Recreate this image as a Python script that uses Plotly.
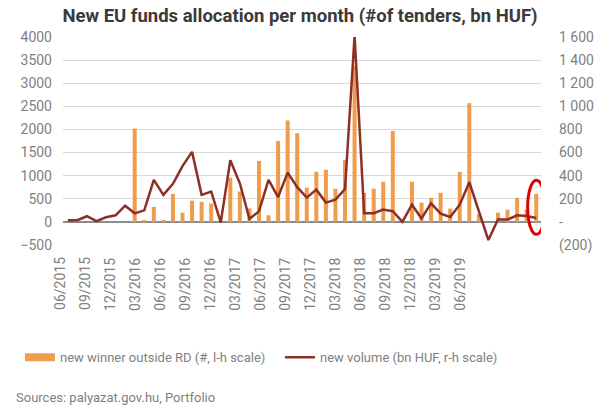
import plotly.graph_objects as go

# Monthly categories 06/2015 .. 07/2019 (50 months)
months = ["06/2015","07/2015","08/2015","09/2015","10/2015","11/2015","12/2015",
          "01/2016","02/2016","03/2016","04/2016","05/2016","06/2016","07/2016","08/2016","09/2016","10/2016","11/2016","12/2016",
          "01/2017","02/2017","03/2017","04/2017","05/2017","06/2017","07/2017","08/2017","09/2017","10/2017","11/2017","12/2017",
          "01/2018","02/2018","03/2018","04/2018","05/2018","06/2018","07/2018","08/2018","09/2018","10/2018","11/2018","12/2018",
          "01/2019","02/2019","03/2019","04/2019","05/2019","06/2019","07/2019"]

# new winner outside RD (#, left scale)
winners = [0, 0, 0, 0, 0, 0, 0, 2020, 25, 325,
           25, 605, 200, 460, 435, 395, 0, 957, 657, 293,
           1320, 143, 1750, 2195, 1920, 740, 1085, 1128, 718, 1343,
           3370, 630, 718, 869, 1968, 0, 869, 415, 522, 630,
           287, 1082, 2568, 165, 0, 200, 264, 521, 264, 607]

# new volume (bn HUF, right scale)
volume = [14, 14, 49, 6, 40, 57, 140, 74, 100, 363,
          234, 329, 483, 606, 234, 263, -5, 534, 334, 26,
          91, 363, 214, 426, 300, 210, 279, 167, 193, 284,
          1610, 75, 75, 106, 92, 0, 149, 30, 160, 71,
          43, 149, 343, 90, -157, 20, 20, 57, 51, 34]

# tick labels shown under the axis (as in the reference)
xtick_labels = ["06/2015","09/2015","12/2015","03/2016","06/2016","09/2016","12/2016",
                "03/2017","06/2017","09/2017","12/2017","03/2018","06/2018","09/2018",
                "12/2018","03/2019","06/2019"]
left_ticks = [-500, 0, 500, 1000, 1500, 2000, 2500, 3000, 3500, 4000]
right_ticks = [-200, 0, 200, 400, 600, 800, 1000, 1200, 1400, 1600]
right_tick_text = ["(200)", "-", "200", "400", "600", "800", "1 000", "1 200", "1 400", "1 600"]

idx = list(range(len(months)))
n = len(idx)
n_lab = len(xtick_labels)
lab_start, lab_end = -0.81, 41.0  # label positions in category units (as drawn in the reference)

BAR = "#F09D4B"
LINE = "#8C2F26"
GRID = "#D9D9D9"
TXT = "#7F7F7F"
FONT = "Roboto"
BAR_NAME = "new winner outside RD (#, l-h scale)"
LINE_NAME = "new volume (bn HUF, r-h scale)"

fig = go.Figure()
fig.add_trace(go.Bar(x=idx, y=winners, name=BAR_NAME, showlegend=False,
                     marker=dict(color=BAR, line=dict(width=0)), customdata=months,
                     hovertemplate="%{customdata}: %{y}<extra></extra>"))
# legend swatch for the bars (wide flat rectangle as in the reference)
fig.add_trace(go.Scatter(x=[None], y=[None], mode="lines", name=BAR_NAME,
                         line=dict(color=BAR, width=8), hoverinfo="skip"))
fig.add_trace(go.Scatter(x=idx, y=volume, name=LINE_NAME, yaxis="y2",
                         mode="lines", line=dict(color=LINE, width=2.5), customdata=months,
                         hovertemplate="%{customdata}: %{y}<extra></extra>"))

# red ellipse around the last bar
last = idx[-1]
fig.add_shape(type="circle", xref="x", yref="y", x0=last - 0.9, x1=last + 0.95,
              y0=-270, y1=900, line=dict(color="#E00000", width=3))

fig.update_layout(
    template="none",
    width=600, height=411,
    margin=dict(l=63, r=59, t=37, b=166, autoexpand=False),
    paper_bgcolor="white", plot_bgcolor="white",
    font=dict(family=FONT, color=TXT, size=14),
    title=dict(text="<b>New EU funds allocation per month (#of tenders, bn HUF)</b>",
               x=0.5, xref="container", y=0.963, yanchor="middle",
               font=dict(family=FONT, size=18.5, color="#3A3A3A")),
    bargap=0.58,
    showlegend=True,
    legend=dict(orientation="h", x=-0.09, xanchor="left", y=-0.54, yanchor="middle",
                font=dict(family=FONT, size=13, color=TXT), entrywidth=215,
                bgcolor="rgba(0,0,0,0)", traceorder="normal"),
    xaxis=dict(range=[-0.5, n - 0.5], showticklabels=False, showgrid=False, zeroline=False,
               showline=False, ticks="", automargin=False),
    yaxis=dict(range=[-500, 4000], tickmode="array", tickvals=left_ticks,
               showgrid=True, gridcolor=GRID, gridwidth=1, zeroline=True,
               zerolinecolor="#8C8C8C", zerolinewidth=1.5, ticks="", ticklabelstandoff=10,
               showline=False, automargin=False,
               tickfont=dict(family=FONT, size=14, color=TXT)),
    yaxis2=dict(range=[-200, 1600], overlaying="y", side="right", tickmode="array",
                tickvals=right_ticks, ticktext=right_tick_text, showgrid=False,
                zeroline=False, ticks="", ticklabelstandoff=17, showline=False, automargin=False,
                tickfont=dict(family=FONT, size=14, color=TXT)),
)

# x tick labels (rotated), placed like in the reference
for k, lab in enumerate(xtick_labels):
    v = lab_start + k * (lab_end - lab_start) / (n_lab - 1)
    fig.add_annotation(text=lab, xref="paper", yref="paper", x=(v + 0.5) / n, y=-0.05,
                       xanchor="center", yanchor="top", textangle=-90, showarrow=False,
                       font=dict(family=FONT, size=14, color=TXT))

fig.add_annotation(text="Sources: palyazat.gov.hu, Portfolio", xref="paper", yref="paper",
                   x=-0.1025, xanchor="left", y=-0.731, yanchor="middle", showarrow=False,
                   font=dict(family=FONT, size=13, color=TXT))

fig.write_html("out.html", config={"displayModeBar": False},
               post_script="document.body.style.margin='0';document.body.style.overflow='hidden';")
